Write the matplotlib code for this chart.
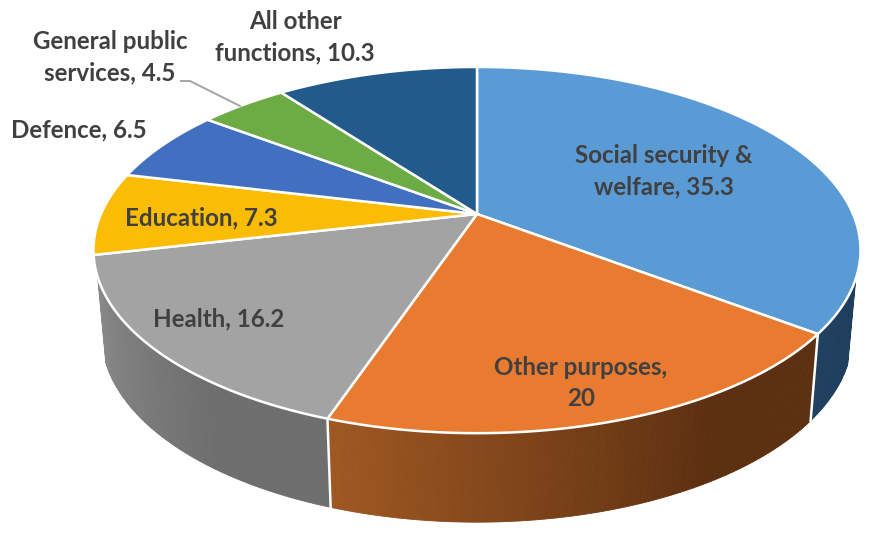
# 3D pie chart of spending by function
import numpy as np
import matplotlib
matplotlib.use("Agg")
import matplotlib.pyplot as plt
from matplotlib.colors import to_rgb

names = ["Social security &\nwelfare, 35.3", "Other purposes,\n20", "Health, 16.2", "Education, 7.3",
         "Defence, 6.5", "General public\nservices, 4.5", "All other\nfunctions, 10.3"]
values = [35.3, 20, 16.2, 7.3, 6.5, 4.5, 10.3]
top_colors = ["#5b9bd5", "#e97b30", "#a3a3a3", "#fbbc05", "#4270c0", "#6dab45", "#235a8c"]
# wall colour at start and end of each slice (clockwise)
wall_start = ["#1f3f5e", "#5c2f11", "#6e6e6e", "#997300", "#294577", "#436829", "#16385a"]
wall_end = ["#1f3f5e", "#a05822", "#8e8e8e", "#997300", "#294577", "#436829", "#16385a"]
label_x = [664, 581, 219, 201, 79, 110, 295]
label_y = [171, 383, 319, 218, 130, 57, 37]

# projection of the disc
cx, cy, rx, ry, k = 477, 214, 376, 176, 0.197
cx2, cy2, rx2, ry2 = 477, 298, 368, 180
vis_from, vis_to = 110, 250.5


def top_xy(t):
    s, c = np.sin(np.radians(t)), np.cos(np.radians(t))
    w = 1 + k * c
    return cx + rx * s / w, cy - ry * c / w


def low_xy(t):
    s, c = np.sin(np.radians(t)), np.cos(np.radians(t))
    w = 1 + k * c
    return cx2 + rx2 * s / w, cy2 - ry2 * c / w


fig = plt.figure(figsize=(8.82, 5.47), dpi=100)
ax = fig.add_axes([0, 0, 1, 1])
ax.set_xlim(0, 882)
ax.set_ylim(547, 0)
ax.axis("off")

edges = np.cumsum([0] + values) / sum(values) * 360

# walls
for i in range(len(values)):
    a = max(edges[i], vis_from)
    b = min(edges[i + 1], vis_to)
    if b <= a:
        continue
    c0 = np.array(to_rgb(wall_start[i]))
    c1 = np.array(to_rgb(wall_end[i]))
    n = int((b - a) * 2) + 2
    ts = np.linspace(a, b, n)
    for j in range(n - 1):
        t = ts[j:j + 2]
        x1, y1 = top_xy(t)
        x2, y2 = low_xy(t[::-1])
        # dark part stays flat for the first third of the slice
        f = (t[0] - edges[i]) / (edges[i + 1] - edges[i])
        f = min(max((f - 0.3) / 0.7, 0), 1)
        col = c0 + (c1 - c0) * f
        ax.fill(np.r_[x1, x2], np.r_[y1, y2], color=col, lw=0.6, zorder=1)

# white joints on the wall
for e in edges:
    if vis_from < e < vis_to:
        x1, y1 = top_xy(e)
        x2, y2 = low_xy(e)
        ax.plot([x1, x2], [y1, y2], color="white", lw=1.8, zorder=2)

# top
for i in range(len(values)):
    ts = np.linspace(edges[i], edges[i + 1], 120)
    x, y = top_xy(ts)
    ax.fill(np.r_[cx, x], np.r_[cy, y], facecolor=top_colors[i], edgecolor="white", lw=1.8,
            joinstyle="round", zorder=3)

# leader line
ax.plot([181, 190, 240], [81, 81, 106], color="#a6a6a6", lw=1.4, zorder=4)

for i in range(len(names)):
    ax.text(label_x[i], label_y[i], names[i], ha="center", va="center", family="Lato",
            fontsize=17.4, fontweight="bold", color="#404040", linespacing=1.45, zorder=5)

fig.savefig("out.png", dpi=100)
